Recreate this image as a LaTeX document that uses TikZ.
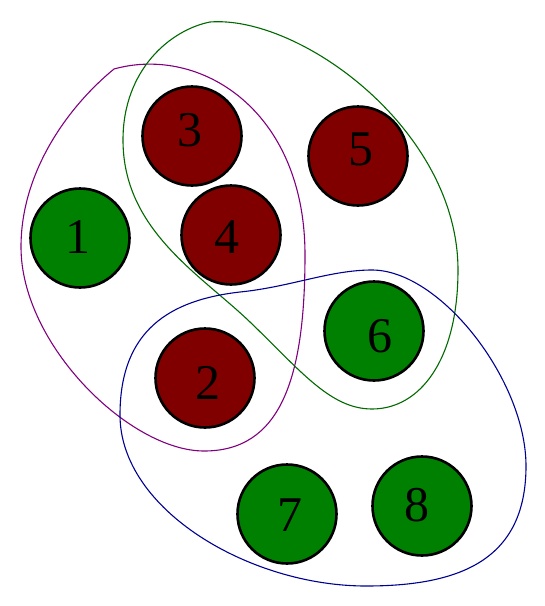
\documentclass[tikz,border=0pt]{standalone}
\usepackage{fontspec}
\setmainfont{Liberation Serif}

\definecolor{vgreen}{RGB}{0,128,0}
\definecolor{vred}{RGB}{128,0,0}
\definecolor{hullviolet}{RGB}{128,0,128}
\definecolor{hullgreen}{RGB}{0,105,0}
\definecolor{hullblue}{RGB}{0,0,145}

\tikzset{
  vtx/.style={circle, draw=black, line width=2.6pt, minimum size=99pt, inner sep=0pt},
  vtxg/.style={vtx, fill=vgreen},
  vtxr/.style={vtx, fill=vred},
  lbl/.style={inner sep=0pt, font=\fontsize{50}{60}\selectfont},
  hull/.style={line width=1.1pt, line join=round}
}

\begin{document}
\begin{tikzpicture}[x=1pt, y=-1pt]

  %% ==== hulls ====
  % 1 3 4 2
  \draw[hull, hullviolet] (114,69) .. controls (200,45) and (305,110) .. (305,255)
    .. controls (305,380) and (280,451) .. (204,451)
    .. controls (130,451) and (21,345) .. (21,247)
    .. controls (21,170) and (70,105) .. (114,69);
  % 3 4 5 6
  \draw[hull, hullgreen] (210,22) .. controls (300,15) and (458,130) .. (458,270)
    .. controls (458,360) and (420,409) .. (372,409)
    .. controls (330,409) and (300,370) .. (250,322)
    .. controls (200,274) and (123,230) .. (123,140)
    .. controls (123,70) and (170,30) .. (210,22);
  % 2 6 7 8
  \draw[hull, hullblue] (240,292) .. controls (290,287) and (330,270) .. (372,270)
    .. controls (440,270) and (526,380) .. (526,466)
    .. controls (526,560) and (460,586) .. (366,586)
    .. controls (250,586) and (120,510) .. (120,415)
    .. controls (120,330) and (170,300) .. (240,292);

  %% ==== vertices ====
  \node[vtxg] (v1) at (80,238) {};
  \node[vtxr] (v3) at (192,136) {};
  \node[vtxr] (v4) at (231,235) {};
  \node[vtxr] (v5) at (358,156) {};
  \node[vtxg] (v6) at (374,331) {};
  \node[vtxr] (v2) at (205,378) {};
  \node[vtxg] (v7) at (287,514) {};
  \node[vtxg] (v8) at (422,506) {};

  %% ==== labels ====
  \node[lbl] (t1) at (78,237) {1};
  \node[lbl] (t3) at (190,130) {3};
  \node[lbl] (t4) at (227,237) {4};
  \node[lbl] (t5) at (361,149) {5};
  \node[lbl] (t6) at (380,336) {6};
  \node[lbl] (t2) at (208,383) {2};
  \node[lbl] (t7) at (290,515) {7};
  \node[lbl] (t8) at (417,505) {8};

  % canvas
  \pgfresetboundingbox
  \path[use as bounding box] (0,0) rectangle (545,606);
\end{tikzpicture}
\end{document}
